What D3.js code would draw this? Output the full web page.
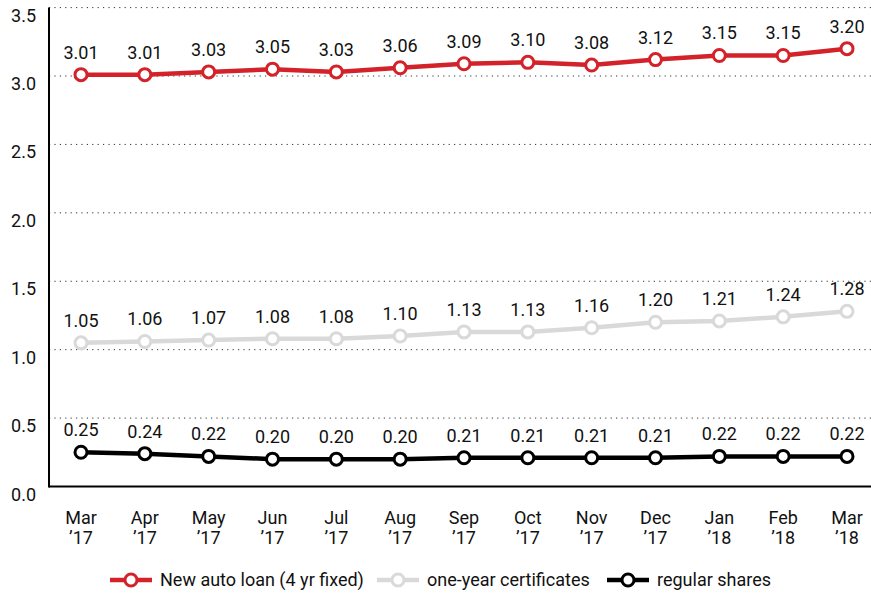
<!DOCTYPE html>
<html>
<head>
<meta charset="utf-8">
<script src="https://cdn.jsdelivr.net/npm/d3@7"></script>
<style>
body { margin: 0; background: #fff; }
text { font-family: Roboto, "Liberation Sans", sans-serif; fill: #111; }
</style>
</head>
<body>
<svg id="chart" width="871" height="596"></svg>
<script>

// data
var months = [ "Mar", "Apr", "May", "Jun", "Jul", "Aug", "Sep", "Oct", "Nov", "Dec", "Jan", "Feb", "Mar" ];
var years = [ "\u201917", "\u201917", "\u201917", "\u201917", "\u201917", "\u201917", "\u201917", "\u201917", "\u201917", "\u201917", "\u201918", "\u201918", "\u201918" ];
var autoLoan = [ 3.01, 3.01, 3.03, 3.05, 3.03, 3.06, 3.09, 3.10, 3.08, 3.12, 3.15, 3.15, 3.20 ];
var certificates = [ 1.05, 1.06, 1.07, 1.08, 1.08, 1.10, 1.13, 1.13, 1.16, 1.20, 1.21, 1.24, 1.28 ];
var regularShares = [ 0.25, 0.24, 0.22, 0.20, 0.20, 0.20, 0.21, 0.21, 0.21, 0.21, 0.22, 0.22, 0.22 ];
var yTicks = [ 0, 0.5, 1.0, 1.5, 2.0, 2.5, 3.0, 3.5 ];

var seriesList = [
	{ name : "New auto loan (4 yr fixed)", values : autoLoan, color : "#d3222a" },
	{ name : "one-year certificates", values : certificates, color : "#d9d9d9" },
	{ name : "regular shares", values : regularShares, color : "#000000" }
];

var svg = d3.select("#chart");

var plotLeft = 49, plotRight = 871, plotTop = 7.6, plotBottom = 486.5;

var x = d3.scalePoint().domain(d3.range(months.length)).range([ 81, 847 ]);
var y = d3.scaleLinear().domain([ 0, 3.5 ]).range([ plotBottom, plotTop ]);

// gridlines
svg.append("g").selectAll("line").data(yTicks.filter(function(d) {
	return d > 0;
})).enter().append("line") //
.attr("x1", plotLeft) //
.attr("x2", plotRight) //
.attr("y1", function(d) {
	return y(d);
}) //
.attr("y2", function(d) {
	return y(d);
}) //
.attr("stroke", "#333") //
.attr("stroke-width", 1) //
.attr("stroke-dasharray", "1.2,4.2");

// y tick labels
svg.append("g").selectAll("text").data(yTicks).enter().append("text") //
.attr("x", 36) //
.attr("y", function(d) {
	return y(d) + 14;
}) //
.attr("text-anchor", "end") //
.style("font-size", "18px") //
.text(function(d) {
	return d3.format(".1f")(d);
});

// axis lines
svg.append("line").attr("x1", plotLeft).attr("x2", plotLeft).attr("y1", plotTop).attr("y2", plotBottom + 1) //
.attr("stroke", "#000").attr("stroke-width", 2);
svg.append("line").attr("x1", plotLeft).attr("x2", plotRight).attr("y1", plotBottom).attr("y2", plotBottom) //
.attr("stroke", "#000").attr("stroke-width", 2);

// x tick labels
var xLabels = svg.append("g").selectAll("text").data(months).enter().append("text") //
.attr("text-anchor", "middle") //
.style("font-size", "18px");
xLabels.append("tspan").attr("x", function(d, i) {
	return x(i);
}).attr("y", 524).text(function(d) {
	return d;
});
xLabels.append("tspan").attr("x", function(d, i) {
	return x(i);
}).attr("y", 544).text(function(d, i) {
	return years[i];
});

var line = d3.line().x(function(d, i) {
	return x(i);
}).y(function(d) {
	return y(d);
});

seriesList.forEach(function(s) {

	var g = svg.append("g");

	g.append("path").datum(s.values) //
	.attr("d", line) //
	.attr("fill", "none") //
	.attr("stroke", s.color) //
	.attr("stroke-width", 4.5);

	g.selectAll("circle").data(s.values).enter().append("circle") //
	.attr("cx", function(d, i) {
		return x(i);
	}) //
	.attr("cy", function(d) {
		return y(d);
	}) //
	.attr("r", 6) //
	.attr("fill", "#fff") //
	.attr("stroke", s.color) //
	.attr("stroke-width", 3);

	g.selectAll("text").data(s.values).enter().append("text") //
	.attr("x", function(d, i) {
		return x(i);
	}) //
	.attr("y", function(d) {
		return y(d) - 16;
	}) //
	.attr("text-anchor", "middle") //
	.style("font-size", "18px") //
	.text(function(d) {
		return d3.format(".2f")(d);
	});

});// END: series loop

// legend
var legendX = [ 110, 377, 607 ];
var legend = svg.append("g").selectAll("g").data(seriesList).enter().append("g") //
.attr("transform", function(d, i) {
	return "translate(" + legendX[i] + ",580)";
});
legend.append("line").attr("x1", 0).attr("x2", 42).attr("y1", 0).attr("y2", 0) //
.attr("stroke", function(d) {
	return d.color;
}).attr("stroke-width", 4.5);
legend.append("circle").attr("cx", 21).attr("cy", 0).attr("r", 6) //
.attr("fill", "#fff") //
.attr("stroke", function(d) {
	return d.color;
}).attr("stroke-width", 3);
legend.append("text").attr("x", 50).attr("y", 6) //
.style("font-size", "18px") //
.text(function(d) {
	return d.name;
});

</script>
</body>
</html>
